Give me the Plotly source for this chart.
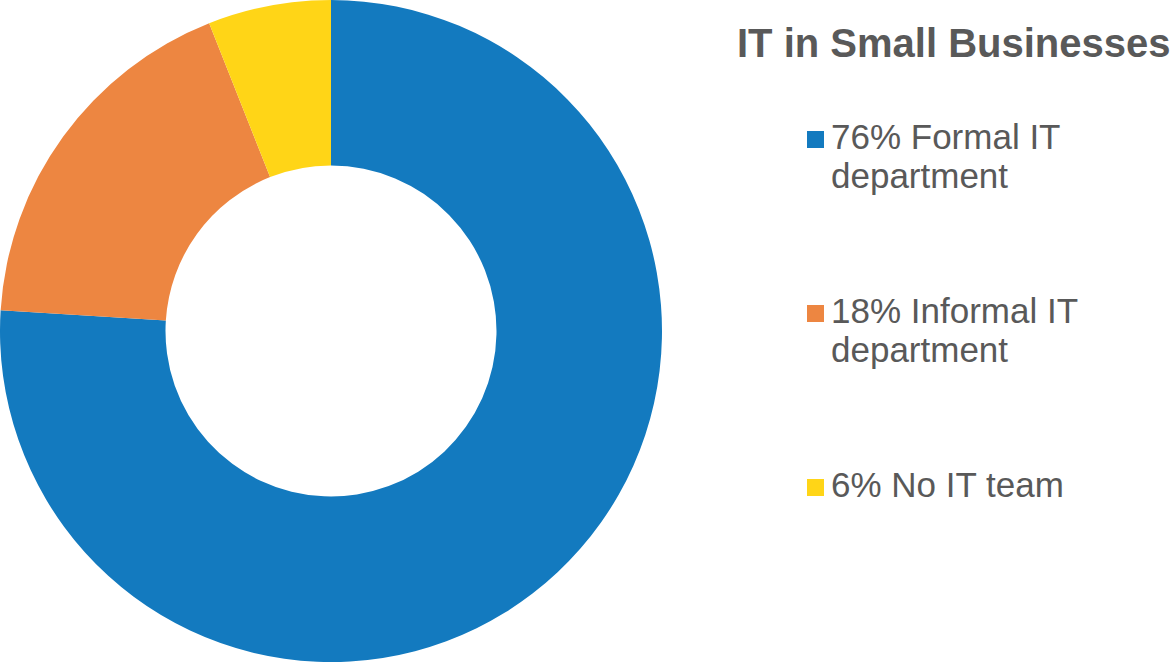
import plotly.graph_objects as go

# ---- data ----
labels = ["Formal IT department", "Informal IT department", "No IT team"]
values = [76, 18, 6]
colors = ["#137ABF", "#ED8641", "#FFD517"]
legend_lines = [["76% Formal IT", "department"],
                ["18% Informal IT", "department"],
                ["6% No IT team"]]
chart_title = "IT in Small Businesses"

W, H = 1176, 662
TEXT = "#595959"
FONT = "Liberation Sans, Arial, sans-serif"

def px(x):
    return x / W

def py(y):
    return 1 - y / H

fig = go.Figure()
fig.add_trace(go.Pie(
    labels=labels, values=values, hole=0.5, sort=False,
    direction="clockwise", rotation=0,
    marker=dict(colors=colors, line=dict(width=0)),
    textinfo="none", hoverinfo="label+percent",
    domain=dict(x=[0, 662 / W], y=[0, 1]),
    showlegend=False,
))

annotations = [dict(
    text="<b>" + chart_title + "</b>", x=px(735), y=py(58 + 9),
    xref="paper", yref="paper", xanchor="left", yanchor="bottom",
    showarrow=False, font=dict(size=40, color=TEXT, family=FONT),
)]
shapes = []
baselines = [150, 324, 498]
line_gap = 39
for i, lines in enumerate(legend_lines):
    b = baselines[i]
    shapes.append(dict(type="rect", xref="paper", yref="paper",
                       x0=px(807), x1=px(824), y0=py(b - 2), y1=py(b - 19),
                       fillcolor=colors[i], line=dict(width=0)))
    for j, t in enumerate(lines):
        annotations.append(dict(
            text=t, x=px(829), y=py(b + j * line_gap + 8),
            xref="paper", yref="paper", xanchor="left", yanchor="bottom",
            showarrow=False, font=dict(size=35, color=TEXT, family=FONT),
        ))

fig.update_layout(
    width=W, height=H,
    margin=dict(l=0, r=0, t=0, b=0),
    paper_bgcolor="white", plot_bgcolor="white",
    annotations=annotations, shapes=shapes,
    showlegend=False,
)
fig.write_html("out.html", config={"displayModeBar": False},
               post_script="document.body.style.margin='0';document.body.style.overflow='hidden';")
